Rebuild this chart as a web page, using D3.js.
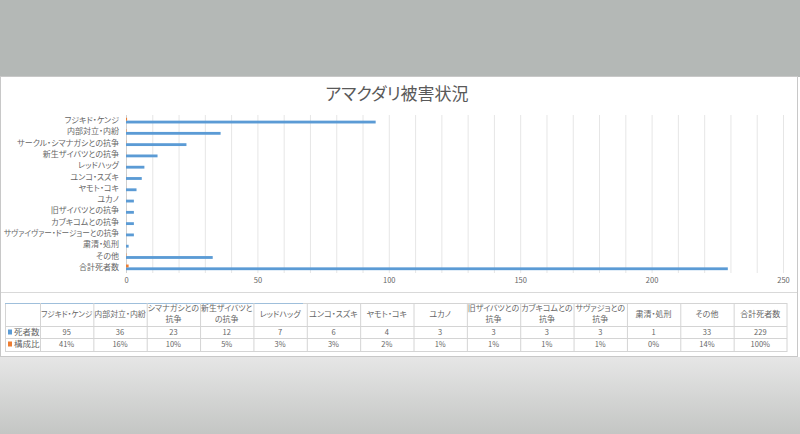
<!DOCTYPE html>
<html><head><meta charset="utf-8">
<script src="https://cdn.jsdelivr.net/npm/d3@7"></script>
<style>
body{margin:0;background:#fff;overflow:hidden;}
svg text{font-family:"Noto Sans CJK JP","Noto Sans",sans-serif;font-feature-settings:"palt";fill:#666;}
</style></head><body><svg id="c" width="800" height="434"></svg>
<script>
const title = "アマクダリ被害状況";
const categories = ["フジキド・ケンジ","内部対立・内紛","サークル・シマナガシとの抗争","新生ザイバツとの抗争","レッドハッグ","ユンコ・スズキ","ヤモト・コキ","ユカノ","旧ザイバツとの抗争","カブキコムとの抗争","サヴァイヴァー・ドージョーとの抗争","粛清・処刑","その他","合計死者数"];
const tableHeaders = [["フジキド・ケンジ"],["内部対立・内紛"],["シマナガシとの","抗争"],["新生ザイバツと","の抗争"],["レッドハッグ"],["ユンコ・スズキ"],["ヤモト・コキ"],["ユカノ"],["旧ザイバツとの","抗争"],["カブキコムとの","抗争"],["サヴァジョとの","抗争"],["粛清・処刑"],["その他"],["合計死者数"]];
const seriesNames = ["死者数","構成比"];
const seriesColors = ["#5b9bd5","#ed7d31"];
const deaths = [95,36,23,12,7,6,4,3,3,3,3,1,33,229];
const shares = [0.41,0.16,0.10,0.05,0.03,0.03,0.02,0.01,0.01,0.01,0.01,0.00,0.14,1.00];
const shareLabels = ["41%","16%","10%","5%","3%","3%","2%","1%","1%","1%","1%","0%","14%","100%"];
const xTicks = [0,50,100,150,200,250];

const svg = d3.select("#c");
function fit(sel, maxW){
  sel.each(function(){
    const w = this.getComputedTextLength();
    if (w > maxW) d3.select(this).attr("textLength", maxW).attr("lengthAdjust","spacingAndGlyphs");
  });
}
// background
const defs = svg.append("defs");
const g1 = defs.append("linearGradient").attr("id","bg").attr("x1",0).attr("y1",0).attr("x2",0).attr("y2",1);
g1.append("stop").attr("offset","0").attr("stop-color","#e6e6e6");
g1.append("stop").attr("offset","1").attr("stop-color","#c4c6c4");
svg.append("rect").attr("x",0).attr("y",0).attr("width",800).attr("height",77).attr("fill","#b4b8b6");
svg.append("rect").attr("x",0).attr("y",357).attr("width",800).attr("height",77).attr("fill","url(#bg)");
svg.append("rect").attr("x",0.5).attr("y",76.5).attr("width",797).attr("height",280).attr("fill","#fff").attr("stroke","#c8c8c8");

// title
svg.append("text").attr("x",397).attr("y",100).attr("text-anchor","middle")
  .style("font-size","17px").style("fill","#595959").text(title);

// scales
const x = d3.scaleLinear().domain([0,250]).range([126,783]);
const y0 = d3.scaleBand().domain(categories).range([115,273]).paddingInner(0.5).paddingOuter(0.25);
const y1 = d3.scaleBand().domain([seriesNames[1],seriesNames[0]]).range([0,y0.bandwidth()]);

// gridlines
svg.append("g").selectAll("line").data(x.ticks(25)).join("line")
  .attr("x1",d=>x(d)+0.5).attr("x2",d=>x(d)+0.5).attr("y1",115).attr("y2",273)
  .attr("stroke",d=>d===0?"#d0d0d0":"#e6e6e6").attr("stroke-width",1);

// bars
const rows = categories.map((c,i)=>({c, v:[deaths[i],shares[i]]}));
const grp = svg.append("g").selectAll("g").data(rows).join("g")
  .attr("transform",d=>`translate(0,${y0(d.c)})`);
grp.selectAll("rect").data(d=>seriesNames.map((s,j)=>({s,j,v:d.v[j]}))).join("rect")
  .attr("x",x(0)).attr("y",d=>y1(d.s)).attr("height",y1.bandwidth())
  .attr("width",d=>Math.max(0,x(d.v)-x(0))).attr("fill",d=>seriesColors[d.j]);

// axes
const ax = svg.append("g").attr("transform","translate(0,278)")
  .call(d3.axisBottom(x).tickValues(xTicks).tickSize(0).tickPadding(0));
ax.select(".domain").remove();
ax.selectAll("text").style("font-size","7.5px").attr("fill",null);
ax.attr("font-family",null).attr("font-size",null);

const ay = svg.append("g").attr("transform","translate(119,0)")
  .call(d3.axisLeft(y0).tickSize(0).tickPadding(0));
ay.select(".domain").remove();
ay.selectAll("text").style("font-size","8px").attr("fill",null);
ay.attr("font-family",null).attr("font-size",null);
fit(ay.selectAll("text"), 115);

// separator lines
svg.append("line").attr("x1",1).attr("x2",797).attr("y1",292.5).attr("y2",292.5).attr("stroke","#d9d9d9");

// data table
const tx = d3.scaleBand().domain(d3.range(categories.length)).range([40,787]);
const tTop = 303, r1 = 326, r2 = 338, tBot = 351;
const tb = svg.append("g");
tb.append("rect").attr("x",5.5).attr("y",tTop+0.5).attr("width",787-5.5).attr("height",tBot-tTop).attr("fill","none").attr("stroke","#d4d4d4");
tb.append("line").attr("x1",5).attr("x2",303).attr("y1",tTop+0.5).attr("y2",tTop+0.5).attr("stroke","#9fbfdb");
[r1,r2].forEach(yy=>tb.append("line").attr("x1",5).attr("x2",787).attr("y1",yy+0.5).attr("y2",yy+0.5).attr("stroke","#d4d4d4"));
tb.selectAll("line.v").data(d3.range(categories.length)).join("line").attr("class","v")
  .attr("x1",i=>tx(i)+0.5).attr("x2",i=>tx(i)+0.5).attr("y1",tTop).attr("y2",tBot).attr("stroke","#d4d4d4");

// header text
const ht = tb.selectAll("text.h").data(tableHeaders).join("text").attr("class","h")
  .attr("text-anchor","middle").style("font-size","8px");
ht.each(function(lines,i){
  const t = d3.select(this);
  const cx = tx(i)+tx.bandwidth()/2;
  const yl = lines.length===1 ? 317 : 311;
  lines.forEach((l,k)=>t.append("tspan").attr("x",cx).attr("y",yl+k*11).text(l));
});
fit(ht.selectAll("tspan"), tx.bandwidth()-2);
tb.selectAll("text.d").data(deaths).join("text").attr("class","d")
  .attr("x",(d,i)=>tx(i)+tx.bandwidth()/2).attr("y",335).attr("text-anchor","middle")
  .style("font-size","7.5px").text(d=>d);
tb.selectAll("text.p").data(shareLabels).join("text").attr("class","p")
  .attr("x",(d,i)=>tx(i)+tx.bandwidth()/2).attr("y",347).attr("text-anchor","middle")
  .style("font-size","7.5px").text(d=>d);
// legend keys
seriesNames.forEach((s,j)=>{
  const yy = j===0 ? 332 : 344;
  tb.append("rect").attr("x",8).attr("y",yy-2.5).attr("width",4).attr("height",5).attr("fill",seriesColors[j]);
  tb.append("text").attr("x",14).attr("y",yy+3).style("font-size","8.5px").text(s);
});
</script></body></html>
